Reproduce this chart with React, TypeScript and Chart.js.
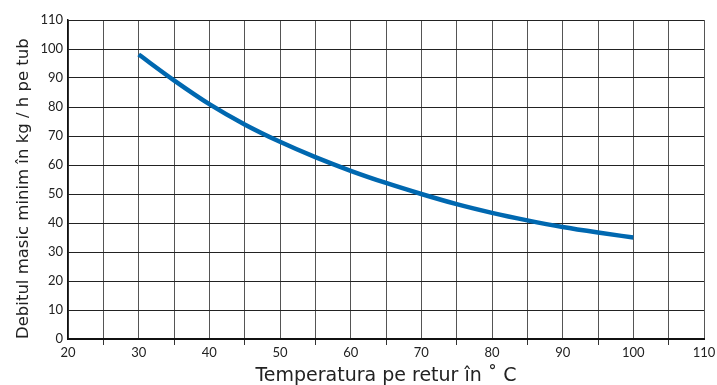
import React, { useEffect, useRef } from "react";
import { Chart, registerables } from "chart.js";

Chart.register(...registerables);

const temperatures = [30, 35, 40, 45, 50, 55, 60, 65, 70, 75, 80, 85, 90, 95, 100];
const flowRates = [98.1, 89.2, 81.0, 74.0, 68.0, 62.7, 58.0, 53.8, 50.0, 46.5, 43.5, 40.9, 38.6, 36.7, 35.0];
const xTitle = "Temperatura pe retur în ˚ C";
const yTitle = "Debitul masic minim în kg / h pe tub";

export default function App() {
  const ref = useRef<HTMLCanvasElement | null>(null);

  useEffect(() => {
    document.body.style.margin = "0";
    const canvas = ref.current;
    if (!canvas) return;
    const font = "Lato, 'Open Sans', sans-serif";
    const titleFont = "'DejaVu Sans', 'Open Sans', sans-serif";
    const chart = new Chart(canvas, {
      type: "line",
      data: {
        datasets: [
          {
            data: temperatures.map((t, i) => ({ x: t, y: flowRates[i] })),
            borderColor: "#0068b0",
            borderWidth: 4.5,
            pointRadius: 0,
            cubicInterpolationMode: "monotone",
            fill: false,
          },
        ],
      },
      options: {
        responsive: false,
        animation: false,
        layout: { padding: { top: 20, right: 13, left: 0, bottom: 0 } },
        plugins: { legend: { display: false }, tooltip: { enabled: false } },
        scales: {
          x: {
            type: "linear",
            min: 20,
            max: 110,
            afterFit: (s: any) => {
              s.height = 46;
            },
            ticks: {
              stepSize: 5,
              autoSkip: false,
              maxRotation: 0,
              padding: 0,
              color: "#222",
              font: { family: font, size: 13 },
              callback: (v: any) => (Number(v) % 10 === 0 ? String(v) : ""),
            },
            grid: {
              color: "#555",
              lineWidth: 1,
              drawTicks: true,
              tickLength: 6,
              tickColor: (ctx: any) =>
                ctx.tick && ctx.tick.value % 10 === 5 ? "#333" : "rgba(0,0,0,0)",
            },
            border: { color: "#111", width: 2 },
            title: {
              display: true,
              text: xTitle,
              color: "#222",
              font: { family: titleFont, size: 19, lineHeight: 1 },
              padding: { top: 0, bottom: -1 },
            },
          },
          y: {
            min: 0,
            max: 110,
            afterFit: (s: any) => {
              s.width = 68;
            },
            ticks: {
              stepSize: 10,
              padding: 5,
              color: "#222",
              font: { family: font, size: 13 },
            },
            grid: {
              color: "#222",
              lineWidth: 1,
              drawTicks: false,
            },
            border: { color: "#111", width: 1.5 },
            title: {
              display: true,
              text: yTitle,
              align: "start",
              color: "#222",
              font: { family: titleFont, size: 16.5, lineHeight: 1 },
              padding: { top: 15, bottom: 0 },
            },
          },
        },
      },
    });
    return () => chart.destroy();
  }, []);

  return (
    <div style={{ position: "absolute", left: 0, top: 0, width: 717, height: 385, background: "#fff" }}>
      <canvas ref={ref} width={717} height={385} style={{ display: "block" }} />
    </div>
  );
}
